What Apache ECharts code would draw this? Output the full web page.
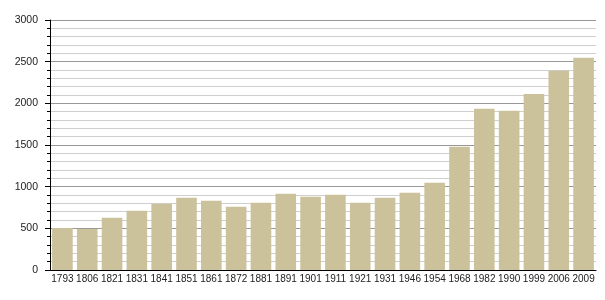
<!DOCTYPE html>
<html><head><meta charset="utf-8">
<script src="https://cdn.jsdelivr.net/npm/echarts@6/dist/echarts.min.js"></script>
<style>html,body{margin:0;padding:0;background:#fff}#c{width:605px;height:300px}</style>
</head><body><div id="c"></div>
<script>
var years = ['1793','1806','1821','1831','1841','1851','1861','1872','1881','1891','1901','1911','1921','1931','1946','1954','1968','1982','1990','1999','2006','2009'];
var population = [505,492,628,712,796,868,832,760,808,916,880,904,808,868,928,1048,1480,1936,1912,2112,2392,2548];
var chart = echarts.init(document.getElementById('c'), null, {renderer:'canvas'});
chart.setOption({
  animation:false,
  grid:{left:50,right:9,top:20,bottom:30},
  xAxis:{type:'category',data:years,
    axisLine:{lineStyle:{color:'#000',width:1}},
    axisTick:{show:false},
    axisLabel:{color:'#222',fontFamily:'Liberation Sans, Arial',fontSize:10,margin:4,interval:0}},
  yAxis:{type:'value',min:0,max:3000,interval:500,
    axisLine:{show:true,lineStyle:{color:'#000'}},
    axisTick:{show:true,length:5,lineStyle:{color:'#000'}},
    minorTick:{show:true,splitNumber:5,length:3,lineStyle:{color:'#000'}},
    splitLine:{lineStyle:{color:'#999'}},
    minorSplitLine:{show:true,lineStyle:{color:'#cfcfcf'}},
    axisLabel:{color:'#222',fontFamily:'Liberation Sans, Arial',fontSize:10.5,margin:12,
      formatter:function(v){return String(v);}}},
  series:[{type:'bar',data:population,barCategoryGap:'17%',
    itemStyle:{color:'#cbc19b'}}]
});
</script></body></html>
